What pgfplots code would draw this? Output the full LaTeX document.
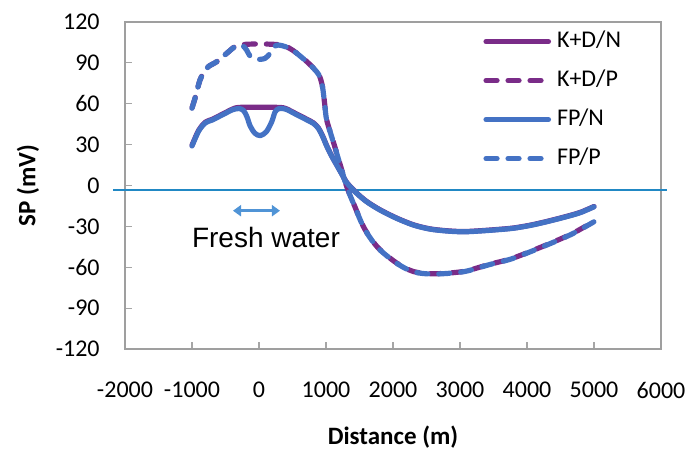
\documentclass[border=0pt]{standalone}
\usepackage{pgfplots}
\pgfplotsset{compat=1.18}
\usepackage{fontspec}
\setmainfont{Carlito}
\newfontfamily\arialfont{Liberation Sans}
\usetikzlibrary{arrows.meta}

\definecolor{kdpurple}{RGB}{122,44,136}
\definecolor{fpblue}{RGB}{68,114,196}
\definecolor{zeroline}{RGB}{33,136,196}
\definecolor{arrowblue}{RGB}{80,148,214}

\begin{document}
\begin{tikzpicture}
\useasboundingbox (-62.5pt,-51pt) rectangle (282pt,174.5pt);
\begin{axis}[
    scale only axis,
    width=268pt, height=163.5pt,
    xmin=-2000, xmax=6000,
    ymin=-120, ymax=120,
    xtick={-2000,-1000,...,6000},
    ytick={-120,-90,...,120},
    tick pos=left,
    tick align=inside,
    major tick length=3.5pt,
    tick style={gray!70, line width=0.6pt},
    axis line style={gray!75, line width=0.8pt},
    clip=false,
    /pgf/number format/assume math mode=true,
    /pgf/number format/1000 sep={},
    tick label style={font=\fontsize{12}{14}\selectfont},
    xticklabel style={inner sep=0pt, anchor=north, yshift=-16.5pt},
    yticklabel style={inner sep=0pt, anchor=east, xshift=-12.5pt},
    xlabel={Distance (m)},
    ylabel={SP (mV)},
    xlabel style={font=\bfseries\fontsize{12.5}{14}\selectfont, at={(axis description cs:0.5,-0.269)}, anchor=center},
    ylabel style={font=\bfseries\fontsize{12.5}{14}\selectfont, at={(axis description cs:-0.181,0.5)}, anchor=center},
    legend style={at={(axis description cs:0.668,0.975)}, anchor=north west, draw=none, fill=none,
        inner sep=0pt, row sep=8.5pt, font=\fontsize{12}{14}\selectfont,
        nodes={inner sep=0pt, text height=8.5pt, text depth=2.5pt},
        /tikz/every odd column/.append style={column sep=3pt}},
    legend cell align=left,
    legend image code/.code={\draw[#1] (1.4pt,0pt) -- (32.6pt,0pt);},
    every axis plot/.append style={line width=2.6pt, line cap=round, line join=round},
]

% reference line just below zero
\addplot[zeroline, line width=1pt, line cap=butt, forget plot] coordinates {(-2179,-3.2) (6090,-3.2)};

% K+D/N
\addplot[kdpurple, smooth] coordinates {
(-1000,29.5) (-900,40.5) (-800,46.5) (-700,48.5) (-600,51) (-500,53.5) (-400,56) (-300,57.3)
(0,57.5) (300,57.3) (400,56.5) (560,52.5) (700,49) (811,46) (885,42.3) (950,36.3)
(1010,29.3) (1080,22.2) (1160,15.2) (1240,8.2) (1309,2.2) (1458,-5.5) (1607,-11.7)
(1806,-17.8) (2050,-23.8) (2303,-28.8) (2550,-31.8) (2801,-33.2) (3050,-33.8) (3299,-33.2)
(3550,-32.3) (3796,-31.2) (4050,-29.1) (4294,-26.4) (4550,-23.2) (4791,-19.8) (5000,-15.4)
};
\addlegendentry{K+D/N}

% K+D/P
\addplot[kdpurple, smooth, dash pattern=on 5.5pt off 5.5pt] coordinates {
(-1000,57) (-955,64) (-930,68.8) (-881,77.4) (-831,82.3) (-757,87.2) (-631,90.9) (-482,97)
(-358,102) (-258,103.4) (0,103.9) (288,103.4) (400,102) (512,99) (712,91) (861,83.7)
(910,79.5) (950,72) (980,60) (1010,48.2) (1085,36) (1160,23.8) (1234,11.6) (1309,-0.7) (1408,-12.8)
(1557,-30) (1682,-39.8) (1806,-47.1) (2055,-56.9) (2303,-63.1) (2601,-64.8) (3049,-63.1)
(3422,-58.1) (3796,-53.2) (4294,-43.5) (4642,-36.1) (4850,-30.6) (5000,-26.4)
};
\addlegendentry{K+D/P}

% FP/N
\addplot[fpblue, smooth] coordinates {
(-1000,29) (-900,40) (-800,46) (-700,48) (-600,50.5) (-500,53) (-400,55.5) (-300,56.5)
(-230,55) (-180,50.5) (-130,43.5) (-60,38.3) (20,36.6) (110,39.5) (190,46.8) (240,54)
(300,56.5) (400,56) (560,52) (700,48.5) (811,45.6) (885,42) (950,36) (1010,29)
(1080,22) (1160,15) (1240,8) (1309,2) (1458,-5.7) (1607,-11.9) (1806,-18) (2050,-24)
(2303,-29) (2550,-32) (2801,-33.4) (3050,-34) (3299,-33.4) (3550,-32.5) (3796,-31.4)
(4050,-29.3) (4294,-26.6) (4550,-23.4) (4791,-20) (5000,-15.6)
};
\addlegendentry{FP/N}

% FP/P
\addplot[fpblue, smooth, dash pattern=on 5.5pt off 5.5pt] coordinates {
(-1000,56.7) (-955,64) (-930,68.8) (-881,77.4) (-831,82.3) (-757,87.2) (-631,90.9) (-482,97)
(-358,101.9) (-258,103.1) (-184,99.4) (-134,95) (-34,92.6) (90,93.3) (164,97) (214,101.4)
(288,103.1) (400,101.8) (512,99) (712,90.9) (861,83.5) (910,79.3) (950,71.8) (980,59.8) (1010,48)
(1085,35.8) (1160,23.6) (1234,11.4) (1309,-0.9) (1408,-13) (1557,-30.2) (1682,-40)
(1806,-47.3) (2055,-57.1) (2303,-63.3) (2601,-65) (3049,-63.3) (3422,-58.3) (3796,-53.4)
(4294,-43.7) (4642,-36.3) (4850,-30.8) (5000,-26.6)
};
\addlegendentry{FP/P}

\draw[arrowblue, line width=1.5pt, {Triangle[length=4pt,width=5.5pt]}-{Triangle[length=4pt,width=5.5pt]}]
    (axis cs:-388,-18.5) -- (axis cs:313,-18.5);
\node[font=\arialfont\fontsize{14}{16}\selectfont, anchor=center] at (axis cs:104,-37.8) {Fresh water};
\end{axis}
\end{tikzpicture}
\end{document}
